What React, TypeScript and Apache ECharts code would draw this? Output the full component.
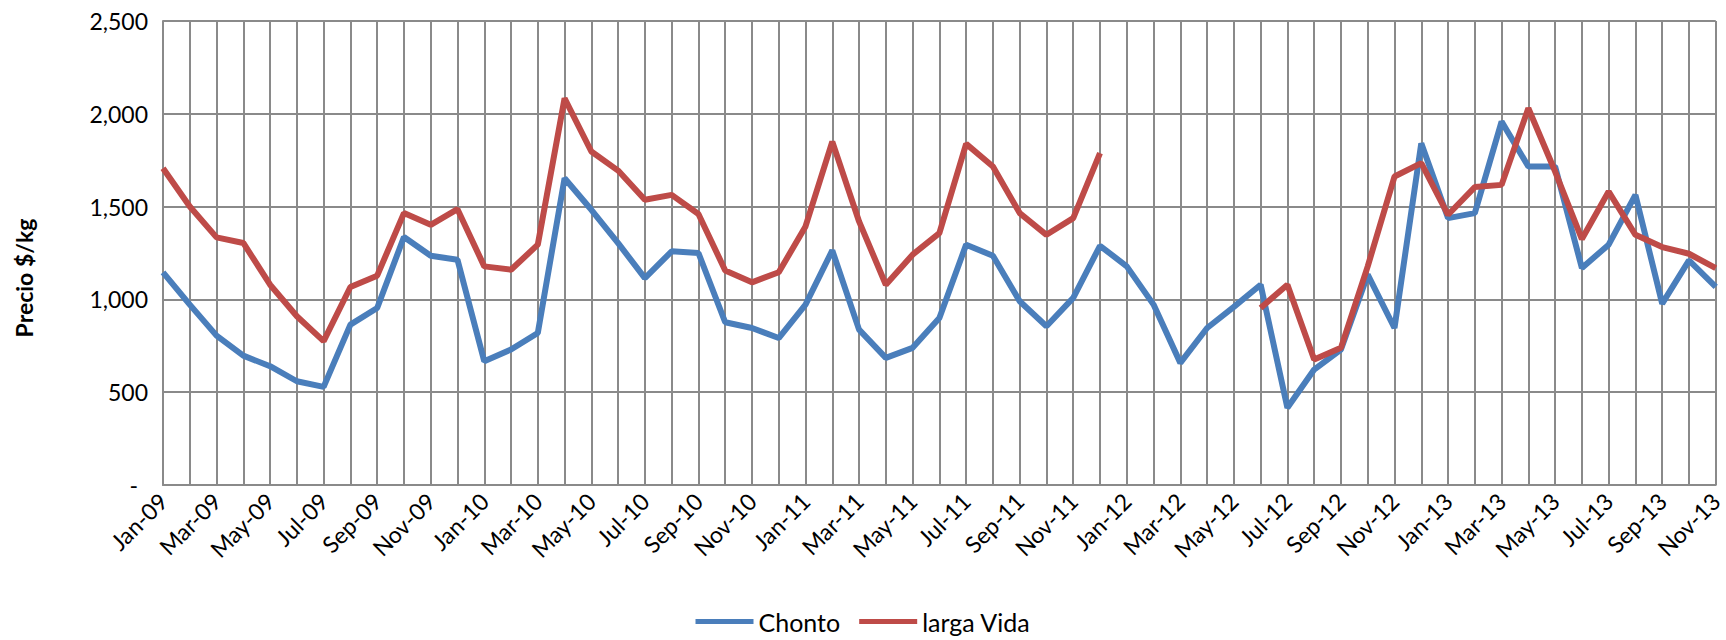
import React, { useEffect, useRef } from "react";
import * as echarts from "echarts";

const MONTHS = ["Jan", "Feb", "Mar", "Apr", "May", "Jun", "Jul", "Aug", "Sep", "Oct", "Nov", "Dec"];
const YEARS = ["09", "10", "11", "12", "13"];
const MONTH_COUNT = 59; // Jan-09 .. Nov-13

const CHONTO = [
  1146, 972, 805, 697, 640, 559, 529, 864, 954, 1336,
  1235, 1214, 667, 730, 819, 1653, 1483, 1303, 1115, 1259,
  1250, 877, 846, 792, 972, 1264, 837, 685, 739, 900,
  1295, 1235, 990, 855, 1008, 1289, 1178, 972, 658, 846,
  960, 1079, 416, 622, 730, 1133, 846, 1841, 1438, 1465,
  1958, 1716, 1716, 1169, 1295, 1563, 977, 1210, 1067,
];

const LARGA_VIDA = [
  1707, 1501, 1334, 1304, 1079, 909, 775, 1067, 1128, 1465,
  1402, 1486, 1178, 1160, 1295, 2083, 1797, 1694, 1537, 1563,
  1460, 1156, 1092, 1146, 1393, 1850, 1420, 1079, 1241, 1357,
  1838, 1716, 1465, 1348, 1438, 1788, null, null, null, null,
  null, 954, 1079, 676, 739, 1178, 1662, 1734, 1456, 1605,
  1617, 2030, 1689, 1325, 1581, 1348, 1282, 1246, 1169,
];

const Y_TICKS = [0, 500, 1000, 1500, 2000, 2500];

const CATEGORIES: string[] = [];
for (let i = 0; i < MONTH_COUNT; i++) {
  CATEGORIES.push(MONTHS[i % 12] + "-" + YEARS[Math.floor(i / 12)]);
}

const FONT = "Lato, 'Noto Sans', sans-serif";
const GRID_COLOR = "#8a8a8a";

export default function App() {
  const ref = useRef<HTMLDivElement>(null);

  useEffect(() => {
    if (!ref.current) return;
    const chart = echarts.init(ref.current, null, { renderer: "svg" });
    chart.setOption({
      animation: false,
      backgroundColor: "#ffffff",
      textStyle: { fontFamily: FONT },
      grid: { left: 163, right: 3, top: 21, bottom: 155, containLabel: false },
      legend: {
        data: ["Chonto", "larga Vida"],
        left: "center",
        top: 604,
        icon: "rect",
        itemWidth: 58,
        itemHeight: 5,
        itemGap: 19,
        textStyle: { fontFamily: FONT, fontSize: 25, color: "#000000" },
      },
      graphic: [
        {
          type: "text",
          x: 24,
          y: 278,
          rotation: Math.PI / 2,
          style: {
            text: "Precio $/kg",
            font: "bold 23px " + FONT,
            fill: "#000000",
            textAlign: "center",
            textVerticalAlign: "middle",
          },
        },
      ],
      xAxis: {
        type: "category",
        data: CATEGORIES,
        boundaryGap: false,
        axisLine: { show: true, lineStyle: { color: GRID_COLOR, width: 2 } },
        axisTick: { show: false },
        axisLabel: {
          interval: 1,
          rotate: 45,
          margin: 12,
          fontFamily: FONT,
          fontSize: 23,
          color: "#000000",
        },
        splitLine: { show: true, interval: 0, lineStyle: { color: GRID_COLOR, width: 2 } },
      },
      yAxis: {
        type: "value",
        min: Y_TICKS[0],
        max: Y_TICKS[Y_TICKS.length - 1],
        interval: 500,
        axisLine: { show: true, lineStyle: { color: GRID_COLOR, width: 2 } },
        axisTick: { show: false },
        axisLabel: {
          margin: 15,
          fontFamily: FONT,
          fontSize: 23,
          color: "#000000",
          formatter: (v: number) => (v === 0 ? "{d|-}" : v.toLocaleString("en-US")),
          rich: { d: { fontFamily: FONT, fontSize: 23, color: "#000000", padding: [0, 10, 0, 0] } },
        },
        splitLine: { show: true, lineStyle: { color: GRID_COLOR, width: 2 } },
      },
      series: [
        {
          name: "Chonto",
          type: "line",
          data: CHONTO,
          symbol: "none",
          lineStyle: { color: "#4a7ebb", width: 6 },
          itemStyle: { color: "#4a7ebb" },
          z: 2,
        },
        {
          name: "larga Vida",
          type: "line",
          data: LARGA_VIDA,
          symbol: "none",
          connectNulls: false,
          lineStyle: { color: "#be4b48", width: 6 },
          itemStyle: { color: "#be4b48" },
          z: 3,
        },
      ],
    });
    return () => chart.dispose();
  }, []);

  return (
    <div
      ref={ref}
      style={{ position: "absolute", left: 0, top: 0, width: 1726, height: 640 }}
    />
  );
}
